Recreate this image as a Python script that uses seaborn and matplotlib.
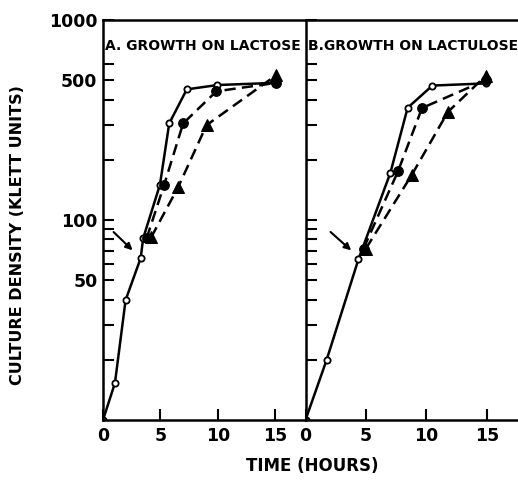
import numpy as np
import pandas as pd
import seaborn as sns
import matplotlib.pyplot as plt

sns.set_style("ticks")
plt.rcParams['font.family'] = ['DejaVu Sans']
plt.rcParams['font.weight'] = 'bold'
plt.rcParams['text.color'] = 'black'
plt.rcParams['axes.edgecolor'] = 'black'
plt.rcParams['xtick.color'] = 'black'
plt.rcParams['ytick.color'] = 'black'

# panel A: growth on lactose
a_open_t = [0, 1.04, 1.97, 3.28, 3.5, 4.96, 5.77, 7.3, 9.97, 15.0]
a_open_y = [10, 15.3, 39.8, 64.4, 81, 150, 304, 450, 473, 485]
a_fill_t = [3.8, 5.33, 6.98, 9.88, 15.1]
a_fill_y = [81, 150, 304, 440, 485]
a_tri_t = [4.2, 6.55, 9.02, 15.1]
a_tri_y = [82, 146, 298, 530]

# panel B: growth on lactulose
b_open_t = [0, 1.75, 4.38, 7.02, 8.45, 10.5, 14.9]
b_open_y = [10, 20, 63.6, 172, 364, 470, 482]
b_fill_t = [4.8, 7.65, 9.64, 14.9]
b_fill_y = [72, 175, 363, 500]
b_tri_t = [5.0, 8.79, 11.78, 14.9]
b_tri_y = [72, 168, 347, 525]

y_ticks = [20, 30, 40, 50, 60, 70, 80, 90, 100, 200, 300, 400, 500, 600, 1000]
y_labels = {50: '50', 100: '100', 500: '500', 1000: '1000'}
x_ticks = [0, 5, 10, 15]

fig = plt.figure(figsize=(5.18, 4.8), dpi=100)
ax_a = fig.add_axes([103 / 518, 60 / 480, 202 / 518, 400 / 480])
ax_b = fig.add_axes([305.5 / 518, 60 / 480, 220 / 518, 400 / 480])

dash = (0, (4.5, 2.5))


def draw_panel(ax, open_t, open_y, fill_t, fill_y, tri_t, tri_y):
    sns.lineplot(x=open_t, y=open_y, ax=ax, color='black', lw=1.8,
                 estimator=None, sort=False, marker='o', markersize=4.5,
                 markerfacecolor='white', markeredgecolor='black', markeredgewidth=1.3)
    sns.lineplot(x=fill_t, y=fill_y, ax=ax, color='black', lw=1.8, linestyle=dash,
                 estimator=None, sort=False, marker='o', markersize=7,
                 markerfacecolor='black', markeredgecolor='black')
    sns.lineplot(x=tri_t, y=tri_y, ax=ax, color='black', lw=1.8, linestyle=dash,
                 estimator=None, sort=False, marker='^', markersize=8,
                 markerfacecolor='black', markeredgecolor='black')
    ax.set_yscale('log')
    ax.set_ylim(10, 1000)
    ax.set_yticks(y_ticks)
    ax.minorticks_off()
    ax.set_xticks(x_ticks)
    ax.set_xticklabels([str(t) for t in x_ticks])
    ax.tick_params(direction='in', length=8, width=1.5, labelsize=12.5, pad=4)
    ax.tick_params(axis='x', pad=5)
    for s in ax.spines.values():
        s.set_linewidth(1.8)
    ax.set_xlabel('')
    ax.set_ylabel('')


draw_panel(ax_a, a_open_t, a_open_y, a_fill_t, a_fill_y, a_tri_t, a_tri_y)
draw_panel(ax_b, b_open_t, b_open_y, b_fill_t, b_fill_y, b_tri_t, b_tri_y)

ax_a.set_xlim(0, 17.6)
ax_b.set_xlim(0, 18.2)
ax_a.set_yticklabels([y_labels.get(v, '') for v in y_ticks])
ax_b.set_yticklabels([])
ax_a.spines['right'].set_visible(False)

ax_a.text(0.2, 740, 'A. GROWTH ON LACTOSE', fontsize=10, fontweight='bold', va='center')
ax_b.text(0.2, 740, 'B.GROWTH ON LACTULOSE', fontsize=10, fontweight='bold', va='center')

ax_a.annotate('', xy=(2.75, 69), xytext=(0.75, 89),
              arrowprops=dict(arrowstyle='-|>', color='black', lw=1.5, mutation_scale=10))
ax_b.annotate('', xy=(3.95, 69), xytext=(1.9, 89),
              arrowprops=dict(arrowstyle='-|>', color='black', lw=1.5, mutation_scale=10))

fig.text(18 / 518, 1 - 235 / 480, 'CULTURE DENSITY (KLETT UNITS)', rotation=90,
         ha='center', va='center', fontsize=11.5, fontweight='bold')
fig.text(312 / 518, 1 - 466 / 480, 'TIME (HOURS)', ha='center', va='center',
         fontsize=12, fontweight='bold')

fig.savefig('out.png', dpi=100, facecolor='white')
